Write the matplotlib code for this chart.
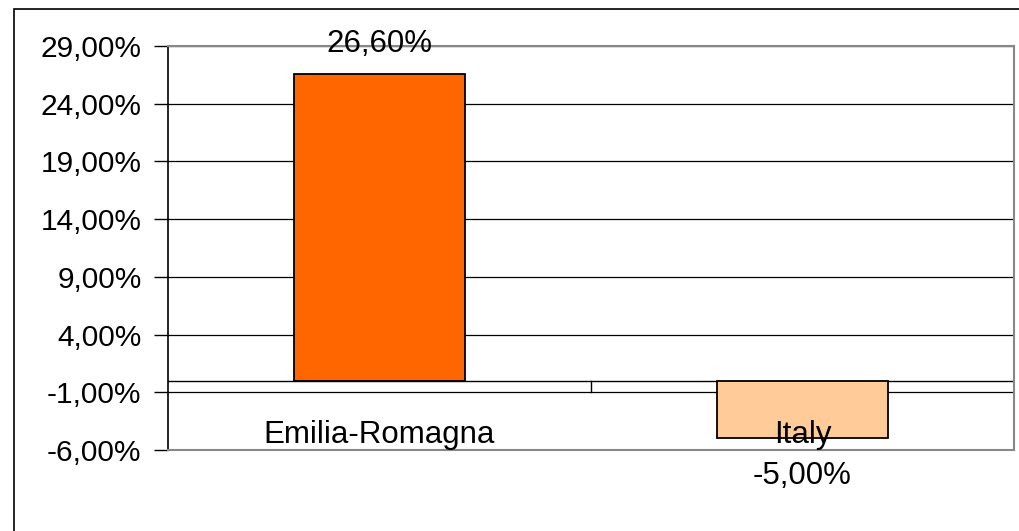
import matplotlib
matplotlib.use("Agg")
import matplotlib.pyplot as plt
from matplotlib.patches import Rectangle

categories = ["Emilia-Romagna", "Italy"]
values = [26.60, -5.00]
colors = ["#FF6600", "#FFCC99"]
yticks = [-6, -1, 4, 9, 14, 19, 24, 29]

plt.rcParams['font.family'] = ['Liberation Sans', 'DejaVu Sans']
FS = 21.5
FS2 = 22.5

W, H = 1019, 531
fig = plt.figure(figsize=(W / 100, H / 100), dpi=100)

# outer chart frame
fig.patches.append(Rectangle((14 / W, -0.1), 1.2, 1.1 - 9 / H,
                             transform=fig.transFigure, fill=False,
                             edgecolor="black", linewidth=1.2))

ax = fig.add_axes([168 / W, 1 - 450 / H, (1014 - 168) / W, (450 - 46) / H])
x = list(range(len(categories)))
ax.set_xlim(-0.5, len(categories) - 0.5)
ax.set_ylim(-6, 29)
ax.set_yticks(yticks)
ax.set_yticklabels([f"{v:.2f}%".replace(".", ",") for v in yticks], fontsize=FS)
ax.tick_params(axis="y", direction="out", length=10, width=1, pad=9)
ax.set_xticks([])
for v in yticks:
    ax.axhline(v, color="black", linewidth=0.9, zorder=0)
ax.axhline(0, color="black", linewidth=1.0, zorder=1)
ax.plot([0.5, 0.5], [0, -1], color="black", linewidth=1.0, zorder=1)

ax.bar(x, values, width=0.404, color=colors, edgecolor="black", linewidth=1.3, zorder=2)

for s in ["top", "right", "bottom"]:
    ax.spines[s].set_color("#888888")
    ax.spines[s].set_linewidth(1.5)
ax.spines["left"].set_color("black")
ax.spines["left"].set_linewidth(1.2)

for xi, cat in zip(x, categories):
    ax.text(xi, -5.39, cat, ha="center", va="baseline", fontsize=FS2, zorder=3, clip_on=False)

ax.text(x[0], 28.48, f"{values[0]:.2f}%".replace(".", ","), ha="center", va="baseline",
        fontsize=FS2, zorder=3, clip_on=False)
ax.text(x[1], -8.95, f"{values[1]:.2f}%".replace(".", ","), ha="center", va="baseline",
        fontsize=FS2, zorder=3, clip_on=False)

fig.savefig("out.png", dpi=100)
